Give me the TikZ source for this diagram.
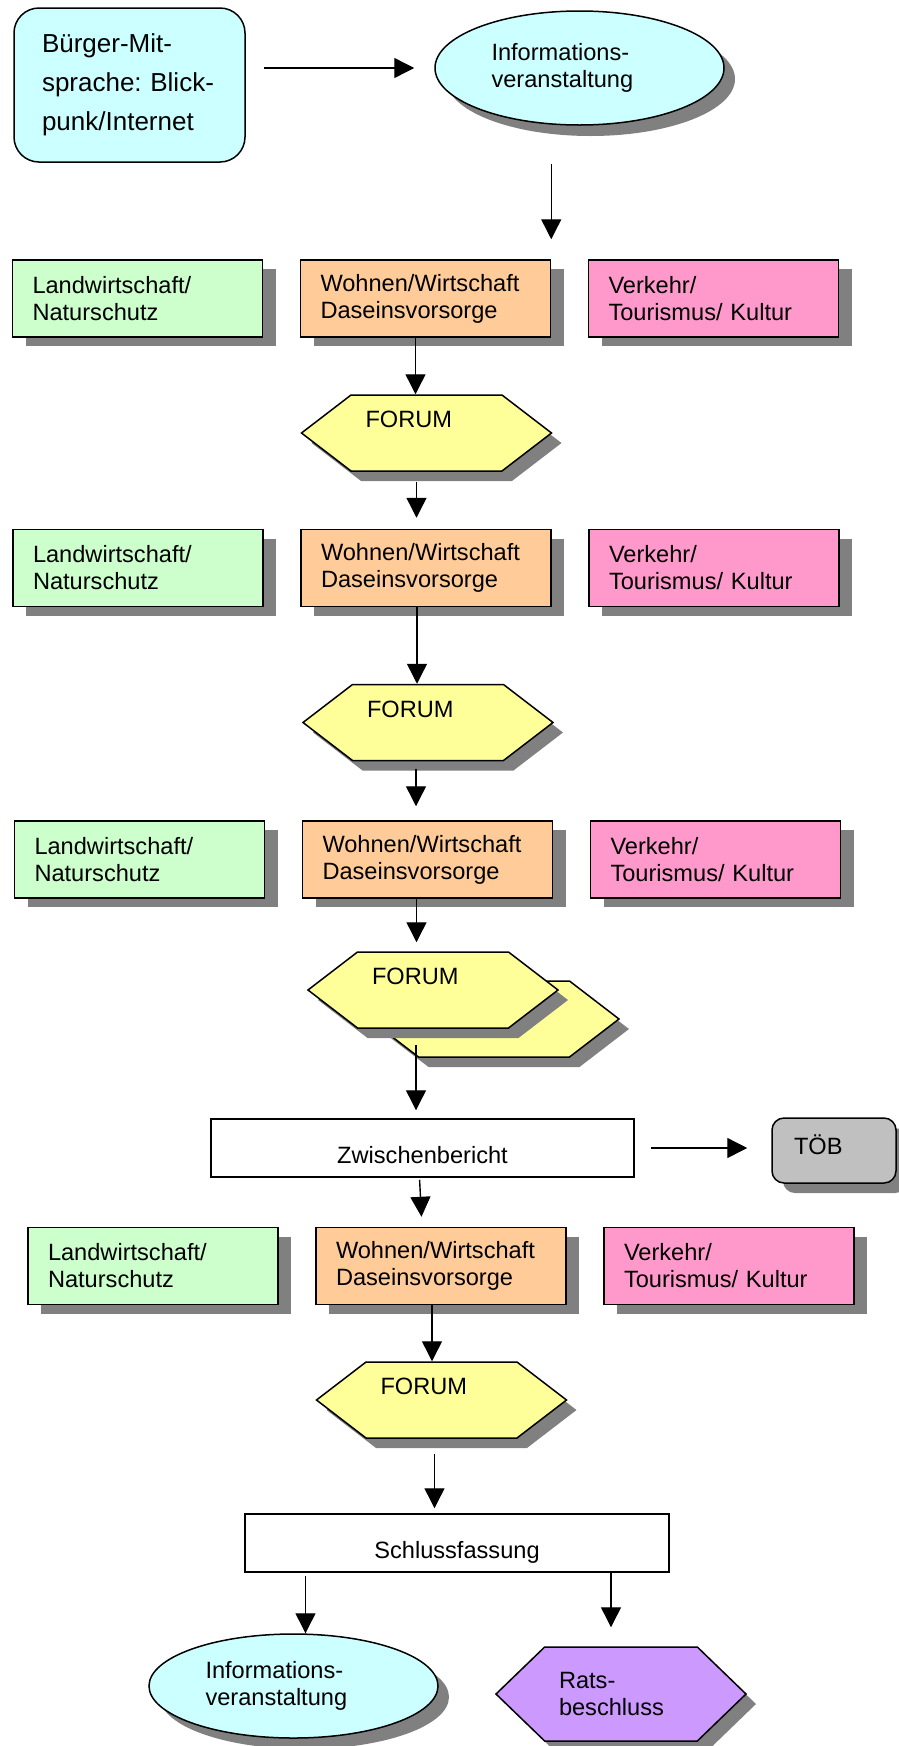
\documentclass[tikz,border=0pt]{standalone}
\usepackage{fontspec}
\setmainfont{Liberation Sans}
\usepackage{tikz, color}
\usetikzlibrary{positioning, arrows.meta, shapes.geometric, shapes.symbols, shadows}
\definecolor{hellblau}{RGB}{204,255,255}
\definecolor{hellgruen}{RGB}{204,255,204}
\definecolor{apricot}{RGB}{255,204,153}
\definecolor{rosa}{RGB}{255,153,204}
\definecolor{gelb}{RGB}{255,255,153}
\definecolor{lila}{RGB}{204,153,255}
\definecolor{grau}{RGB}{192,192,192}
\definecolor{schattengrau}{RGB}{128,128,128}
\frenchspacing
\tikzset{
  ablauf/.style={
	x=1pt, y=-1pt, % coordinates in pixels, y grows downwards
	>={Triangle[width=20pt,length=20pt]}, % big filled arrow heads
	node distance=288pt, % centre distance of the boxes in one row
	every node/.style={font=\fontsize{23.6pt}{27pt}\selectfont},
  },
  pfeil/.style={->, line width=1.4pt},
  kasten/.style={draw, line width=1.5pt, minimum width=250pt, minimum height=77pt,
	inner sep=0pt, text width=210pt, align=left,
	drop shadow={shadow xshift=13pt, shadow yshift=-9pt, fill=schattengrau, opacity=1}},
  buerger/.style={draw, line width=1.5pt, rounded corners=25pt, fill=hellblau,
	minimum width=231pt, minimum height=154pt, inner sep=0pt, text width=175pt, align=left,
	font=\fontsize{26pt}{39pt}\selectfont},
  info/.style={ellipse, draw, line width=1.5pt, fill=hellblau, minimum width=289pt,
	inner sep=0pt, text width=176pt, align=left,
	drop shadow={shadow xshift=11pt, shadow yshift=-11pt, fill=schattengrau, opacity=1}},
  sechseck/.style={signal, signal to=west and east, draw, line width=1.5pt,
	minimum width=250pt, inner sep=0pt,
	drop shadow={shadow xshift=10pt, shadow yshift=-10pt, fill=schattengrau, opacity=1}},
  forum/.style={sechseck, fill=gelb, signal pointer angle=75, minimum height=76pt,
	text width=122pt, align=left, text height=17pt, text depth=28pt},
  rat/.style={sechseck, fill=lila, signal pointer angle=88, minimum height=94pt,
	text width=124pt, align=left},
  bericht/.style={draw, line width=1.5pt, fill=white, minimum height=58pt,
	inner sep=0pt, text height=30pt, text depth=0pt},
  toeb/.style={draw, line width=1.5pt, rounded corners=12pt, fill=grau,
	minimum width=124pt, minimum height=65pt, inner sep=0pt, text width=80pt,
	align=left, text height=7pt, text depth=0pt,
	drop shadow={shadow xshift=11pt, shadow yshift=-10pt, fill=schattengrau, opacity=1}},
}
\begin{document}
\begin{tikzpicture}[ablauf]
\useasboundingbox (0,0) rectangle (898,1746);

\node[buerger] (buerger) at (129.5,85) {Bürger-Mit-\\\mbox{sprache: Blick-}\\punk/Internet};
\node[info, minimum height=114pt] (info) at (579.5,68) {Informations-\\veranstaltung};

% first round
\node[kasten, fill=hellgruen] (lw1) at (137.5,298.5) {Landwirtschaft/\\Naturschutz};
\node[kasten, fill=apricot, right of=lw1] (ww1) {Wohnen/Wirtschaft\\Daseinsvorsorge};
\node[kasten, fill=rosa, right of=ww1] (vk1) {Verkehr/\\Tourismus/ Kultur};
\node[forum] (forum1) at (426.5,433) {FORUM};

% second round
\node[kasten, fill=hellgruen] (lw2) at (138,568) {Landwirtschaft/\\Naturschutz};
\node[kasten, fill=apricot, right of=lw2] (ww2) {Wohnen/Wirtschaft\\Daseinsvorsorge};
\node[kasten, fill=rosa, right of=ww2] (vk2) {Verkehr/\\Tourismus/ Kultur};
\node[forum] (forum2) at (428,722.5) {FORUM};

% third round
\node[kasten, fill=hellgruen] (lw3) at (139.5,859.5) {Landwirtschaft/\\Naturschutz};
\node[kasten, fill=apricot, right of=lw3] (ww3) {Wohnen/Wirtschaft\\Daseinsvorsorge};
\node[kasten, fill=rosa, right of=ww3] (vk3) {Verkehr/\\Tourismus/ Kultur};
\node[forum] (forum3b) at (494,1019) {};
\node[forum] (forum3) at (433,990) {FORUM};

\node[bericht, minimum width=423pt] (zwb) at (422.5,1148) {Zwischenbericht};
\node[toeb] (toeb) at (834,1150.5) {TÖB};

% fourth round
\node[kasten, fill=hellgruen] (lw4) at (153,1266) {Landwirtschaft/\\Naturschutz};
\node[kasten, fill=apricot, right of=lw4] (ww4) {Wohnen/Wirtschaft\\Daseinsvorsorge};
\node[kasten, fill=rosa, right of=ww4] (vk4) {Verkehr/\\Tourismus/ Kultur};
\node[forum] (forum4) at (441.5,1400) {FORUM};

\node[bericht, minimum width=424pt] (schluss) at (457,1543) {Schlussfassung};
\node[info, minimum height=104pt] (info2) at (293.5,1686) {Informations-\\veranstaltung};
\node[rat] (rat) at (621,1694) {Rats-\\beschluss};

\draw[pfeil, shorten <=18pt, shorten >=20pt] (buerger.east |- info.west) -- (info.west);
\draw[pfeil, shorten <=38pt, shorten >=20pt] (ww1.north east |- info.south) -- (ww1.north east);
\draw[pfeil] ([xshift=-10pt]ww1.south) -- ([xshift=-10pt]ww1.south |- forum1.north);
\draw[pfeil, shorten <=10pt, shorten >=11pt] ([xshift=-10pt]forum1.south) -- ([xshift=-10pt]forum1.south |- ww2.north);
\draw[pfeil] ([xshift=-9pt]ww2.south) -- ([xshift=-9pt]ww2.south |- forum2.north);
\draw[pfeil, shorten <=8pt, shorten >=14pt] ([xshift=-12pt]forum2.south) -- ([xshift=-12pt]forum2.south |- ww3.north);
\draw[pfeil, shorten >=9pt] ([xshift=-11pt]ww3.south) -- ([xshift=-11pt]ww3.south |- forum3.north);
\draw[pfeil, shorten <=16pt, shorten >=8pt] ([xshift=-17pt]forum3.south) -- ([xshift=-17pt]forum3.south |- zwb.north);
\draw[pfeil, shorten <=16pt, shorten >=24pt] (zwb.east) -- (zwb.east -| toeb.west);
\draw[pfeil, shorten <=2pt, shorten >=10pt] ([xshift=-3pt]zwb.south) -- ([xshift=-19pt]ww4.north);
\draw[pfeil] ([xshift=-9pt]ww4.south) -- ([xshift=-9pt]ww4.south |- forum4.north);
\draw[pfeil, shorten <=15pt, shorten >=5pt] ([xshift=-7pt]forum4.south) -- ([xshift=-7pt]forum4.south |- schluss.north);
\draw[pfeil, shorten <=3pt] ([xshift=12pt]info2.north |- schluss.south) -- ([xshift=12pt]info2.north);
\draw[pfeil, shorten >=19pt] ([xshift=-10pt]rat.north |- schluss.south) -- ([xshift=-10pt]rat.north);
\end{tikzpicture}
\end{document}
